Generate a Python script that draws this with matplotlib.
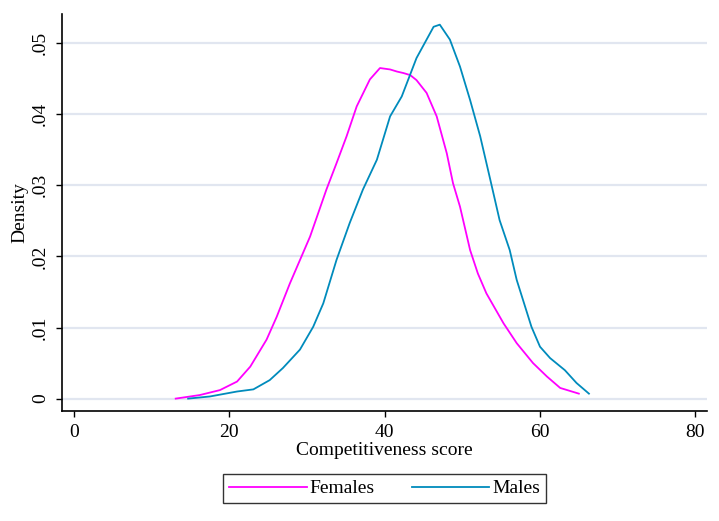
import matplotlib
matplotlib.use("Agg")
import matplotlib.pyplot as plt
import numpy as np

# kernel density curves
female_x = [13.1, 16.2, 18.8, 21.0, 22.7, 24.8, 26.1, 27.8, 30.4, 32.5, 33.8, 35.1,
            36.4, 38.1, 39.4, 40.7, 41.6, 42.4, 43.3, 44.1, 45.4, 46.7, 48.0, 48.8,
            49.7, 51.0, 52.0, 53.1, 55.3, 57.0, 59.1, 60.9, 62.6, 65.0]
female_y = [0.0000, 0.0005, 0.0012, 0.0024, 0.0045, 0.0083, 0.0115, 0.0162, 0.0228,
            0.0294, 0.0331, 0.0369, 0.0411, 0.0449, 0.0465, 0.0463, 0.0460, 0.0458,
            0.0455, 0.0448, 0.0430, 0.0397, 0.0345, 0.0303, 0.0270, 0.0209, 0.0176,
            0.0148, 0.0106, 0.0078, 0.0050, 0.0031, 0.0015, 0.0007]

male_x = [14.7, 17.5, 21.0, 23.1, 25.2, 26.9, 29.1, 30.8, 32.1, 33.8, 35.5, 37.2,
          39.0, 40.7, 42.2, 44.1, 46.3, 47.1, 48.4, 49.7, 51.0, 52.3, 53.6, 54.8,
          56.1, 57.0, 58.9, 60.0, 61.3, 63.2, 64.7, 66.3]
male_y = [0.0000, 0.0003, 0.0010, 0.0013, 0.0026, 0.0043, 0.0069, 0.0101, 0.0134,
          0.0195, 0.0247, 0.0294, 0.0336, 0.0397, 0.0425, 0.0479, 0.0523, 0.0526,
          0.0505, 0.0467, 0.0420, 0.0369, 0.0308, 0.0251, 0.0209, 0.0167, 0.0101,
          0.0073, 0.0057, 0.0040, 0.0022, 0.0007]

x_ticks = [0, 20, 40, 60, 80]
y_ticks = [0, 0.01, 0.02, 0.03, 0.04, 0.05]
y_tick_labels = ["0", ".01", ".02", ".03", ".04", ".05"]

FEMALE_COLOR = "#FF00FF"
MALE_COLOR = "#008BBC"
GRID_COLOR = "#E1E6F0"

plt.rcParams["font.family"] = ["Liberation Serif", "DejaVu Serif"]

fig = plt.figure(figsize=(7.19, 5.21), dpi=100)
fig.patch.set_facecolor("white")
ax = fig.add_axes([62.3 / 719, 1 - 410.7 / 521, (707 - 62.3) / 719, (410.7 - 14) / 521])

for yv in y_ticks:
    ax.axhline(yv, color=GRID_COLOR, lw=1.6, zorder=0)

ax.plot(female_x, female_y, color=FEMALE_COLOR, lw=1.3, label="Females")
ax.plot(male_x, male_y, color=MALE_COLOR, lw=1.3, label="Males")

ax.set_xlim(-1.5, 81.5)
ax.set_ylim(-0.0017, 0.0541)
ax.set_xticks(x_ticks)
ax.set_yticks(y_ticks)
ax.set_yticklabels(y_tick_labels, rotation=90, va="center")
ax.tick_params(axis="both", direction="out", length=4.5, width=1, labelsize=14, colors="black")
ax.tick_params(axis="x", pad=5)
ax.tick_params(axis="y", pad=5)

for side in ["top", "right"]:
    ax.spines[side].set_visible(False)
for side in ["left", "bottom"]:
    ax.spines[side].set_linewidth(1.2)

ax.set_xlabel("Competitiveness score", fontsize=14, labelpad=1)
ax.set_ylabel("Density", fontsize=14, labelpad=3)

leg = fig.legend(loc="center", bbox_to_anchor=(384.5 / 719, 1 - 488.5 / 521), ncol=2,
                 fontsize=14, handlelength=4.0, handletextpad=0.15, columnspacing=1.9,
                 frameon=True, fancybox=False, borderpad=0.3)
leg.get_frame().set_edgecolor("black")
leg.get_frame().set_linewidth(1.0)

fig.savefig("out.png", dpi=100, facecolor="white")
